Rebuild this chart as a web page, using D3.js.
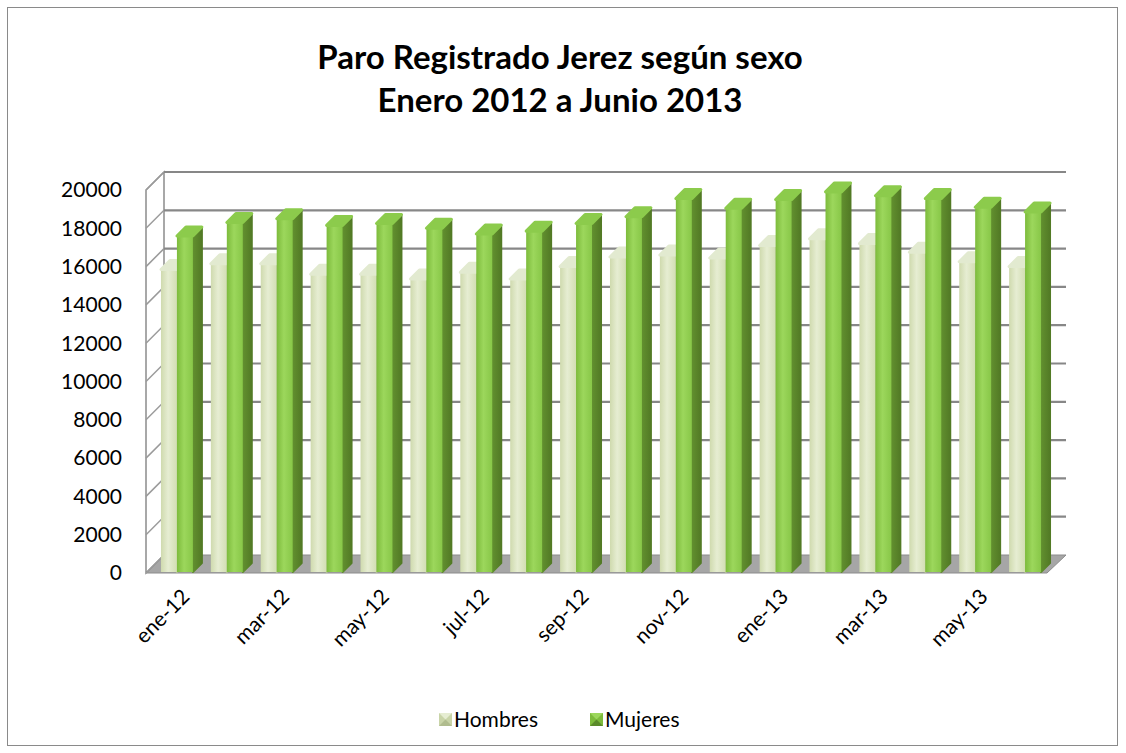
<!DOCTYPE html>
<html>
<head>
<meta charset="utf-8">
<script src="https://cdn.jsdelivr.net/npm/d3@7"></script>
<style>
  body { margin: 0; background: #fff; }
  svg { font-family: Lato, "Open Sans", sans-serif; }
</style>
</head>
<body>
<svg id="chart" width="1126" height="753"></svg>
<script>
// data
const months = ["ene-12","feb-12","mar-12","abr-12","may-12","jun-12","jul-12","ago-12","sep-12",
                "oct-12","nov-12","dic-12","ene-13","feb-13","mar-13","abr-13","may-13","jun-13"];
const hombres = [15850,16150,16150,15600,15600,15350,15700,15350,16000,
                 16500,16600,16450,17100,17450,17200,16750,16250,16000];
const mujeres = [17600,18300,18500,18150,18250,18000,17700,17850,18250,
                 18600,19550,19050,19500,19900,19700,19550,19100,18850];
const yTicks = [0,2000,4000,6000,8000,10000,12000,14000,16000,18000,20000];
const xLabels = ["ene-12","mar-12","may-12","jul-12","sep-12","nov-12","ene-13","mar-13","may-13"];
const seriesNames = ["Hombres","Mujeres"];

const svg = d3.select("#chart");

// outer frame
svg.append("rect").attr("x",7.5).attr("y",7.5).attr("width",1110).attr("height",738)
  .attr("fill","#fff").attr("stroke","#8a8a8a").attr("stroke-width",1);

// title
const title = svg.append("text").attr("text-anchor","middle")
  .attr("font-weight","bold").attr("font-size",33).attr("fill","#000");
title.append("tspan").attr("x",560).attr("y",69).text("Paro Registrado Jerez según sexo");
title.append("tspan").attr("x",560).attr("y",112).text("Enero 2012 a Junio 2013");

// 3d frame
const depth = 18;          // wall depth offset
const barDepth = 9;        // bar depth offset
const frontLeft = 146, floorRight = 1047;

const y = d3.scaleLinear().domain([0,20000]).range([573,190]);
const x = d3.scaleBand().domain(months).range([145,1057]).paddingInner(0.36).paddingOuter(0.32);
const xs = d3.scaleBand().domain(seriesNames).range([0,x.bandwidth()]);

// floor
svg.append("path")
  .attr("d",`M${frontLeft},${y(0)}L${floorRight},${y(0)}L${floorRight+depth+1},${y(0)-depth}L${frontLeft+depth},${y(0)-depth}Z`)
  .attr("fill","#a6a6a6").attr("stroke","#8c8c8c").attr("stroke-width",1);

// left wall
svg.append("path")
  .attr("d",`M${frontLeft},${y(0)}L${frontLeft},${y(20000)}L${frontLeft+depth},${y(20000)-depth}L${frontLeft+depth},${y(0)-depth}Z`)
  .attr("fill","#fff").attr("stroke","#8c8c8c").attr("stroke-width",1.5);

// left wall ticks and back wall gridlines
svg.selectAll(".sidetick").data(yTicks).enter().append("line")
  .attr("class","sidetick")
  .attr("x1",frontLeft).attr("y1",d => y(d))
  .attr("x2",frontLeft+depth).attr("y2",d => y(d)-depth)
  .attr("stroke","#9a9a9a").attr("stroke-width",1.5);

svg.selectAll(".grid").data(yTicks.filter(d => d > 0)).enter().append("line")
  .attr("class","grid")
  .attr("x1",frontLeft+depth).attr("y1",d => y(d)-depth)
  .attr("x2",floorRight+depth+1).attr("y2",d => y(d)-depth)
  .attr("stroke","#878787").attr("stroke-width",2.2);

// y labels
svg.selectAll(".ylab").data(yTicks).enter().append("text")
  .attr("class","ylab")
  .attr("x",122).attr("y",d => y(d)).attr("dy","0.35em")
  .attr("text-anchor","end").attr("font-size",21).attr("fill","#000")
  .text(d => d);

// gradients
const defs = svg.append("defs");
function grad(id, stops) {
  const g = defs.append("linearGradient").attr("id",id).attr("x1","0").attr("x2","1").attr("y1","0").attr("y2","0");
  stops.forEach(s => g.append("stop").attr("offset",s[0]).attr("stop-color",s[1]));
}
grad("gH", [[0,"#cfdaae"],[0.45,"#e6edd2"],[1,"#d3deb4"]]);
grad("gM", [[0,"#7dbb3c"],[0.45,"#9cd75c"],[1,"#88c748"]]);
grad("gHs", [[0,"#b3bf92"],[1,"#a2ae82"]]);
grad("gMs", [[0,"#62902f"],[1,"#527a25"]]);

const style = {
  Hombres: {front:"url(#gH)", side:"url(#gHs)", top:"#e2ead0"},
  Mujeres: {front:"url(#gM)", side:"url(#gMs)", top:"#8ccb4c"}
};

// bars
const rows = [];
months.forEach((m,i) => {
  rows.push({m, s:"Hombres", v:hombres[i]});
  rows.push({m, s:"Mujeres", v:mujeres[i]});
});

const bars = svg.selectAll(".bar").data(rows).enter().append("g").attr("class","bar");
bars.each(function(d) {
  const g = d3.select(this);
  const bx = x(d.m) + xs(d.s), bw = xs.bandwidth();
  const top = y(d.v), bot = y(0) - 1;
  const st = style[d.s];
  // side face
  g.append("path")
    .attr("d",`M${bx+bw},${bot}L${bx+bw},${top}L${bx+bw+barDepth},${top-barDepth}L${bx+bw+barDepth},${bot-barDepth}Z`)
    .attr("fill",st.side).attr("stroke",st.side).attr("stroke-width",2).attr("stroke-linejoin","round");
  // front face
  g.append("rect").attr("x",bx).attr("y",top).attr("width",bw).attr("height",bot-top)
    .attr("fill",st.front);
  // top cap
  g.append("path")
    .attr("d",`M${bx},${top}L${bx+bw},${top}L${bx+bw+barDepth},${top-barDepth}L${bx+barDepth},${top-barDepth}Z`)
    .attr("fill",st.top).attr("stroke",st.top).attr("stroke-width",3).attr("stroke-linejoin","round");
});

// x labels
svg.selectAll(".xlab").data(xLabels).enter().append("text")
  .attr("class","xlab")
  .attr("transform",d => `translate(${x(d)+x.bandwidth()/2+14},${598}) rotate(-45)`)
  .attr("text-anchor","end").attr("font-size",21).attr("fill","#000")
  .text(d => d);

// legend
const legend = svg.append("g");
const legX = [439, 590];
seriesNames.forEach((s,i) => {
  const lx = legX[i], ly = 713;
  const c = i === 0 ? ["#e6edd2","#c9d4a8","#b0bc8e"] : ["#9cd75c","#7dbb3c","#5a8a2a"];
  legend.append("rect").attr("x",lx).attr("y",ly).attr("width",13).attr("height",13).attr("fill",c[1]);
  legend.append("path").attr("d",`M${lx},${ly}L${lx+13},${ly}L${lx+6.5},${ly+6.5}Z`).attr("fill",c[0]);
  legend.append("path").attr("d",`M${lx},${ly+13}L${lx+13},${ly+13}L${lx+6.5},${ly+6.5}Z`).attr("fill",c[2]);
  legend.append("text").attr("x",lx+15).attr("y",ly+6.5).attr("dy","0.36em")
    .attr("font-size",21).attr("fill","#000").text(s);
});
</script>
</body>
</html>
